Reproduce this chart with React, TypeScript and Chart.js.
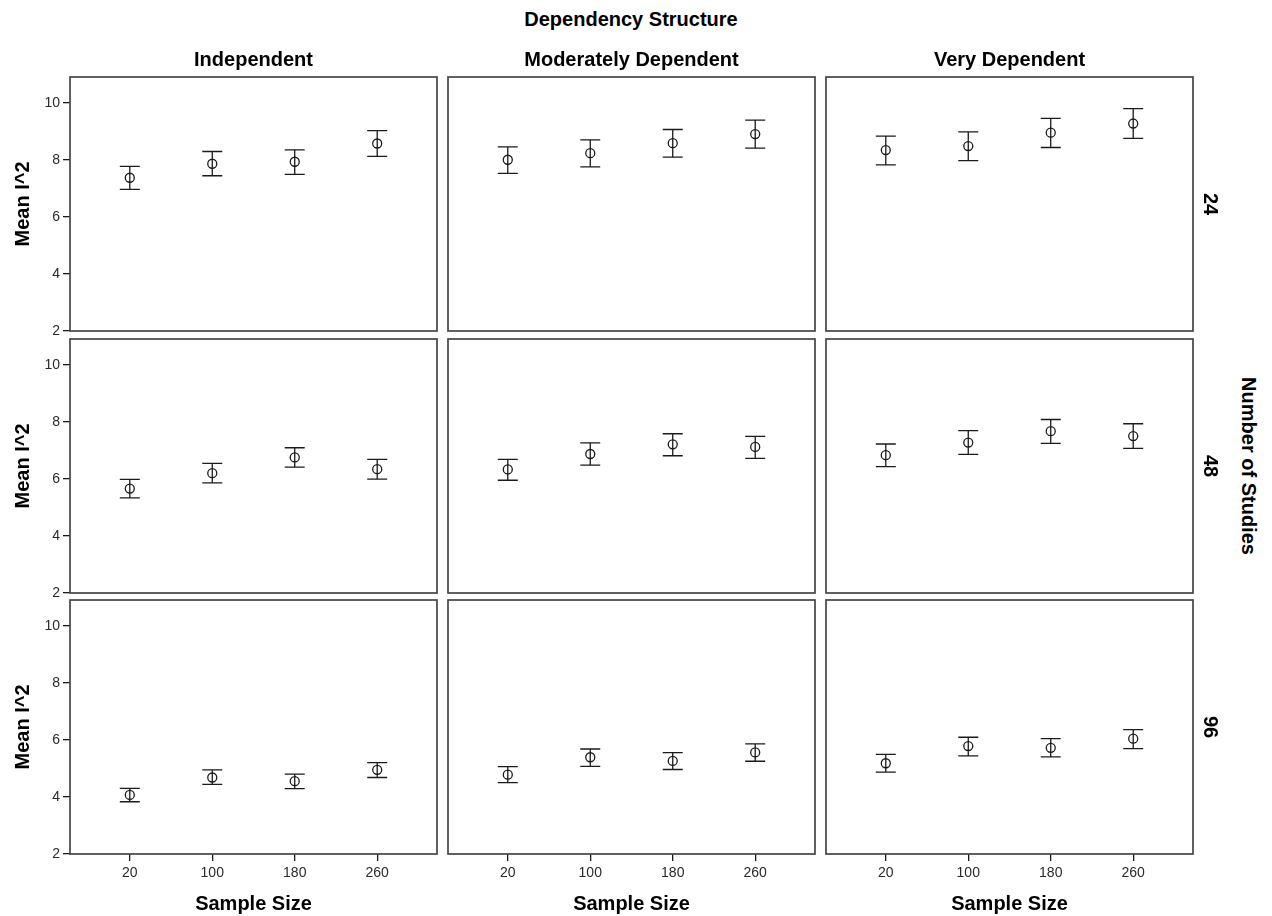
import React, { useEffect, useRef } from 'react';
import { Chart, registerables } from 'chart.js';

Chart.register(...registerables);

// Sample sizes on the x axis and y tick values
const sampleSizes = [20, 100, 180, 260];
const yTickValues = [2, 4, 6, 8, 10];

// Facet labels
const dependencyLevels = ['Independent', 'Moderately Dependent', 'Very Dependent'];
const studyCounts = ['24', '48', '96'];

// Mean I^2 with lower / upper error bar limits, 24 studies
const mean24Independent = [7.37, 7.86, 7.93, 8.57];
const lower24Independent = [6.96, 7.44, 7.49, 8.12];
const upper24Independent = [7.77, 8.29, 8.35, 9.02];
const mean24Moderate = [8.0, 8.23, 8.58, 8.9];
const lower24Moderate = [7.52, 7.75, 8.09, 8.41];
const upper24Moderate = [8.45, 8.7, 9.06, 9.39];
const mean24Very = [8.34, 8.48, 8.95, 9.27];
const lower24Very = [7.82, 7.97, 8.43, 8.75];
const upper24Very = [8.83, 8.98, 9.45, 9.79];

// 48 studies
const mean48Independent = [5.66, 6.2, 6.75, 6.34];
const lower48Independent = [5.33, 5.86, 6.41, 5.99];
const upper48Independent = [5.98, 6.54, 7.09, 6.68];
const mean48Moderate = [6.33, 6.87, 7.21, 7.12];
const lower48Moderate = [5.95, 6.48, 6.81, 6.72];
const upper48Moderate = [6.68, 7.26, 7.58, 7.49];
const mean48Very = [6.83, 7.27, 7.67, 7.5];
const lower48Very = [6.43, 6.86, 7.24, 7.07];
const upper48Very = [7.22, 7.69, 8.08, 7.93];

// 96 studies
const mean96Independent = [4.07, 4.68, 4.55, 4.95];
const lower96Independent = [3.83, 4.44, 4.29, 4.68];
const upper96Independent = [4.3, 4.95, 4.8, 5.2];
const mean96Moderate = [4.78, 5.39, 5.26, 5.56];
const lower96Moderate = [4.5, 5.07, 4.96, 5.25];
const upper96Moderate = [5.06, 5.68, 5.55, 5.86];
const mean96Very = [5.18, 5.78, 5.72, 6.04];
const lower96Very = [4.87, 5.44, 5.4, 5.69];
const upper96Very = [5.49, 6.09, 6.04, 6.36];

type Panel = { mean: number[]; lower: number[]; upper: number[] };

const panelRows: Panel[][] = [
  [
    { mean: mean24Independent, lower: lower24Independent, upper: upper24Independent },
    { mean: mean24Moderate, lower: lower24Moderate, upper: upper24Moderate },
    { mean: mean24Very, lower: lower24Very, upper: upper24Very },
  ],
  [
    { mean: mean48Independent, lower: lower48Independent, upper: upper48Independent },
    { mean: mean48Moderate, lower: lower48Moderate, upper: upper48Moderate },
    { mean: mean48Very, lower: lower48Very, upper: upper48Very },
  ],
  [
    { mean: mean96Independent, lower: lower96Independent, upper: upper96Independent },
    { mean: mean96Moderate, lower: lower96Moderate, upper: upper96Moderate },
    { mean: mean96Very, lower: lower96Very, upper: upper96Very },
  ],
];

// Layout of the facet grid (frame rectangles of each panel)
const FRAME_LEFTS = [70, 448, 826];
const FRAME_TOPS = [77, 339, 600];
const FRAME_W = 367;
const FRAME_H = 254;
const PAD = 10;
const Y_AXIS_W = 70;
const X_AXIS_H = 40;

const FONT = '"Liberation Sans", Arial, Helvetica, sans-serif';
const INK = '#1a1a1a';
const TICK_INK = '#2a2a2a';
const FRAME_COLOR = '#454545';

function canvasBox(r: number, c: number) {
  const left = c === 0 ? FRAME_LEFTS[c] - Y_AXIS_W : FRAME_LEFTS[c] - PAD;
  const width = (c === 0 ? Y_AXIS_W : PAD) + FRAME_W + PAD;
  const top = FRAME_TOPS[r] - PAD;
  const height = PAD + FRAME_H + (r === 2 ? X_AXIS_H : PAD);
  return { left, top, width, height };
}

export default function App() {
  const canvasRefs = useRef<(HTMLCanvasElement | null)[]>([]);

  useEffect(() => {
    const charts: Chart[] = [];
    panelRows.forEach((row, r) => {
      row.forEach((panel, c) => {
        const canvas = canvasRefs.current[r * 3 + c];
        if (!canvas) return;
        const showY = c === 0;
        const showX = r === 2;

        const errorBars = {
          id: 'errorBars' + r + c,
          beforeDatasetsDraw(chart: any) {
            const { ctx, scales } = chart;
            const cap = 10;
            ctx.save();
            ctx.strokeStyle = INK;
            ctx.lineWidth = 1.3;
            panel.lower.forEach((lo, i) => {
              const x = scales.x.getPixelForValue(sampleSizes[i]);
              const yLo = scales.y.getPixelForValue(lo);
              const yHi = scales.y.getPixelForValue(panel.upper[i]);
              ctx.beginPath();
              ctx.moveTo(x, yLo);
              ctx.lineTo(x, yHi);
              ctx.moveTo(x - cap, yLo);
              ctx.lineTo(x + cap, yLo);
              ctx.moveTo(x - cap, yHi);
              ctx.lineTo(x + cap, yHi);
              ctx.stroke();
            });
            ctx.restore();
          },
        };

        const frame = {
          id: 'frame' + r + c,
          afterDraw(chart: any) {
            const { ctx, chartArea } = chart;
            ctx.save();
            ctx.strokeStyle = FRAME_COLOR;
            ctx.lineWidth = 1.7;
            ctx.strokeRect(
              chartArea.left,
              chartArea.top,
              chartArea.right - chartArea.left,
              chartArea.bottom - chartArea.top
            );
            ctx.restore();
          },
        };

        const chart = new Chart(canvas, {
          type: 'scatter',
          data: {
            datasets: [
              {
                data: sampleSizes.map((x, i) => ({ x, y: panel.mean[i] })),
                pointStyle: 'circle',
                pointRadius: 4.5,
                pointBorderWidth: 1.3,
                pointBorderColor: INK,
                pointBackgroundColor: 'rgba(0,0,0,0)',
                showLine: false,
              },
            ],
          },
          options: {
            animation: false,
            responsive: false,
            devicePixelRatio: 1,
            layout: {
              padding: {
                left: showY ? 0 : PAD,
                right: PAD,
                top: PAD,
                bottom: showX ? 0 : PAD,
              },
            },
            plugins: {
              legend: { display: false },
              tooltip: { enabled: false },
            },
            scales: {
              x: {
                type: 'linear',
                display: showX,
                min: -38,
                max: 318,
                afterBuildTicks: (scale: any) => {
                  scale.ticks = sampleSizes.map((v) => ({ value: v }));
                },
                afterFit: (scale: any) => {
                  scale.height = showX ? X_AXIS_H : 0;
                  scale.paddingLeft = 0;
                  scale.paddingRight = 0;
                },
                ticks: {
                  color: TICK_INK,
                  font: { family: FONT, size: 14 },
                  padding: 4,
                  maxRotation: 0,
                  autoSkip: false,
                },
                grid: {
                  drawOnChartArea: false,
                  drawTicks: true,
                  tickLength: 7,
                  color: INK,
                  lineWidth: 1.3,
                },
                border: { display: false },
              },
              y: {
                type: 'linear',
                display: showY,
                min: 2,
                max: 10.9,
                afterBuildTicks: (scale: any) => {
                  scale.ticks = yTickValues.map((v) => ({ value: v }));
                },
                afterFit: (scale: any) => {
                  scale.width = showY ? Y_AXIS_W : 0;
                  scale.paddingTop = 0;
                  scale.paddingBottom = 0;
                },
                ticks: {
                  color: TICK_INK,
                  font: { family: FONT, size: 14 },
                  padding: 3,
                },
                grid: {
                  drawOnChartArea: false,
                  drawTicks: true,
                  tickLength: 7,
                  color: INK,
                  lineWidth: 1.3,
                },
                border: { display: false },
              },
            },
          },
          plugins: [errorBars, frame],
        } as any);
        charts.push(chart);
      });
    });
    return () => charts.forEach((ch) => ch.destroy());
  }, []);

  const boldText: React.CSSProperties = {
    position: 'absolute',
    fontFamily: FONT,
    fontWeight: 'bold',
    fontSize: 20,
    lineHeight: 1,
    color: '#000',
    whiteSpace: 'nowrap',
  };

  const centered = (cx: number, cy: number, rotate = 0): React.CSSProperties => ({
    ...boldText,
    left: cx,
    top: cy,
    transform: `translate(-50%, -50%) rotate(${rotate}deg)`,
  });

  return (
    <div
      style={{
        position: 'absolute',
        left: 0,
        top: 0,
        width: 1272,
        height: 916,
        background: '#fff',
        overflow: 'hidden',
      }}
    >
      {panelRows.map((row, r) =>
        row.map((_, c) => {
          const b = canvasBox(r, c);
          return (
            <canvas
              key={`${r}-${c}`}
              ref={(el) => {
                canvasRefs.current[r * 3 + c] = el;
              }}
              width={b.width}
              height={b.height}
              style={{
                position: 'absolute',
                left: b.left,
                top: b.top,
                width: b.width,
                height: b.height,
              }}
            />
          );
        })
      )}

      <div style={centered(631, 19)}>Dependency Structure</div>
      {dependencyLevels.map((label, c) => (
        <div key={label} style={centered(FRAME_LEFTS[c] + FRAME_W / 2, 59)}>
          {label}
        </div>
      ))}
      {dependencyLevels.map((label, c) => (
        <div key={'x' + label} style={centered(FRAME_LEFTS[c] + FRAME_W / 2, 903)}>
          Sample Size
        </div>
      ))}
      {studyCounts.map((n, r) => (
        <div key={'y' + n} style={centered(22, FRAME_TOPS[r] + FRAME_H / 2, -90)}>
          Mean I^2
        </div>
      ))}
      {studyCounts.map((n, r) => (
        <div key={'n' + n} style={centered(1211, FRAME_TOPS[r] + FRAME_H / 2, 90)}>
          {n}
        </div>
      ))}
      <div style={centered(1249, FRAME_TOPS[1] + FRAME_H / 2, 90)}>Number of Studies</div>
    </div>
  );
}
